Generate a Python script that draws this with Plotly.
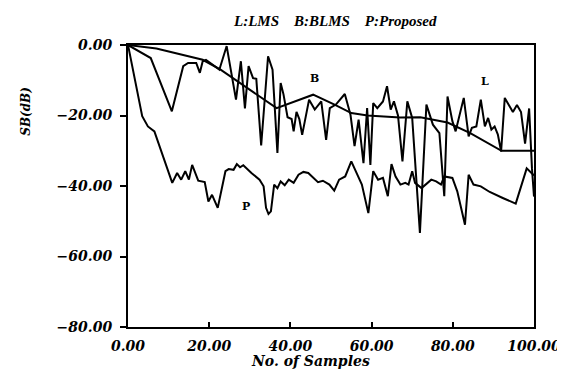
import plotly.graph_objects as go

# LMS (L)
l_x = [0, 3.6, 5.6, 10.8, 13.6, 14.8, 16.8, 17.7, 18.4, 19.2, 22.5, 24.3, 26.6, 27.8, 28.8, 29.7,
       30.8, 31.6, 32.8, 34.5, 35.6, 36.8, 37.6, 38.3, 39.3, 40.3, 40.8, 41.5, 42.2, 42.9, 44.6,
       46.0, 47.6, 48.8, 49.7, 51.2, 53.4, 54.8, 55.8, 56.8, 58.0, 58.9, 59.7, 60.4, 61.4, 62.8,
       63.8, 64.7, 65.5, 66.5, 67.6, 68.8, 70.0, 71.9, 73.5, 75.1, 76.7, 77.9, 78.7, 79.9, 80.7,
       82.7, 83.9, 84.7, 85.8, 86.9, 87.9, 88.7, 89.5, 90.3, 91.1, 91.9, 92.8, 93.8, 94.8, 95.8,
       96.8, 97.8, 98.8, 99.5, 100]
l_y = [0, -2.3, -3.7, -18.8, -6.0, -5.1, -5.1, -7.9, -4.6, -4.2, -7.0, -0.3, -15.5, -4.6, -18.0, -6.0,
       -9.4, -9.6, -28.5, -3.2, -7.0, -30.6, -10.8, -14.0, -20.5, -21.0, -24.5, -19.0, -21.0, -25.5, -15.5,
       -18.3, -16.0, -26.9, -17.9, -16.9, -13.9, -19.8, -28.7, -21.2, -33.5, -17.9, -34.0, -16.5, -17.9, -16.0,
       -11.7, -18.3, -16.0, -20.0, -33.0, -16.0, -20.7, -53.3, -16.9, -22.6, -25.0, -42.9, -14.6, -21.6, -24.5,
       -15.0, -25.9, -23.5, -23.1, -15.5, -23.1, -20.7, -24.0, -23.1, -25.4, -30.2, -15.0, -17.0, -19.0, -17.0,
       -19.0, -28.0, -18.0, -35.0, -43.0]

# BLMS (B)
b_x = [0, 7.0, 18.4, 22.8, 36.6, 45.6, 51.0, 55.0, 59.0, 67.0, 72.0, 78.7, 84.3, 92.0, 100]
b_y = [0, -1.0, -4.2, -7.0, -17.9, -14.1, -17.0, -19.3, -20.0, -20.6, -20.5, -22.0, -25.0, -30.0, -30.0]

# Proposed (P)
p_x = [0, 3.5, 4.9, 6.5, 10.9, 12.1, 13.1, 14.1, 15.0, 15.8, 17.3, 18.9, 19.8, 20.7, 22.1, 24.0,
       24.8, 26.0, 26.8, 27.6, 28.4, 29.3, 30.4, 32.4, 33.4, 34.0, 34.6, 35.2, 36.0, 36.8, 37.6,
       38.6, 39.6, 40.8, 42.0, 43.2, 44.4, 46.8, 48.0, 49.6, 50.8, 52.0, 53.5, 55.0, 55.9, 57.6,
       59.2, 60.4, 61.6, 62.8, 64.0, 64.9, 65.9, 67.1, 68.3, 69.1, 70.0, 70.7, 72.3, 74.7, 75.9,
       77.1, 77.9, 79.9, 81.1, 83.0, 83.9, 85.1, 86.9, 89.1, 92.3, 95.5, 98.2, 100]
p_y = [0, -20.2, -23.1, -24.5, -39.1, -36.3, -38.2, -35.8, -38.2, -34.0, -38.5, -38.9, -44.4, -42.5, -46.2, -35.8,
       -35.2, -35.4, -33.8, -34.7, -34.1, -35.2, -36.3, -38.2, -40.1, -46.2, -47.9, -47.2, -39.6, -40.6, -38.7,
       -39.8, -38.2, -39.1, -36.8, -36.0, -36.3, -38.9, -38.5, -39.6, -41.3, -38.2, -37.3, -33.0, -35.4, -39.6,
       -47.7, -35.8, -38.2, -37.7, -42.9, -33.8, -37.3, -39.6, -39.1, -39.6, -35.8, -39.1, -40.6, -38.2, -38.7,
       -39.6, -37.3, -37.7, -41.5, -51.0, -36.8, -39.6, -40.1, -41.7, -43.4, -45.0, -35.0, -37.0]

x_tickvals = [0, 20, 40, 60, 80, 100]
x_ticktext = ["0.00", "20.00", "40.00", "60.00", "80.00", "100.00"]
y_tickvals = [0, -20, -40, -60, -80]
y_ticktext = ["0.00", "\u221220.00", "\u221240.00", "\u221260.00", "\u221280.00"]

FONT = "DejaVu Serif"
TFONT = "Liberation Serif"
tick_font = dict(family=FONT, size=14, color="black", weight="bold", style="italic")

fig = go.Figure()
line = dict(color="black", width=2)
fig.add_trace(go.Scatter(x=l_x, y=l_y, mode="lines", line=line, name="L"))
fig.add_trace(go.Scatter(x=b_x, y=b_y, mode="lines", line=line, name="B"))
fig.add_trace(go.Scatter(x=p_x, y=p_y, mode="lines", line=line, name="P"))

fig.update_layout(
    width=565, height=370,
    margin=dict(l=120, r=28, t=37, b=51),
    paper_bgcolor="white", plot_bgcolor="white",
    showlegend=False,
    xaxis=dict(range=[0, 100], tickvals=x_tickvals, ticktext=x_ticktext,
               ticks="inside", ticklen=5, tickwidth=1.5, tickcolor="black",
               ticklabelstandoff=5,
               showline=True, linecolor="black", linewidth=2, mirror=True,
               showgrid=False, zeroline=False, tickfont=tick_font),
    yaxis=dict(range=[-80, 0], tickvals=y_tickvals, ticktext=y_ticktext,
               ticks="outside", ticklen=6, tickwidth=1.5, tickcolor="black",
               ticklabelstandoff=5,
               showline=True, linecolor="black", linewidth=2, mirror=True,
               showgrid=False, zeroline=False, tickfont=tick_font),
    annotations=[
        dict(text="L:LMS &nbsp;&nbsp; B:BLMS &nbsp;&nbsp; P:Proposed", xref="paper", yref="paper",
             x=0.51, y=1.085, xanchor="center", yanchor="middle", showarrow=False,
             font=dict(family=TFONT, size=15, color="black", weight="bold", style="italic")),
        dict(text="No. of Samples", xref="paper", yref="paper", x=0.45, y=-0.12,
             xanchor="center", yanchor="middle", showarrow=False,
             font=dict(family=FONT, size=14, color="black", weight="bold", style="italic")),
        dict(text="SB(dB)", xref="paper", yref="paper", x=-0.25, y=0.765, textangle=-90,
             xanchor="center", yanchor="middle", showarrow=False,
             font=dict(family=FONT, size=12, color="black", weight="bold", style="italic")),
        dict(text="L", x=88, y=-10.3, showarrow=False,
             font=dict(family=FONT, size=11, color="black", weight="bold")),
        dict(text="B", x=46, y=-9.6, showarrow=False,
             font=dict(family=FONT, size=11, color="black", weight="bold")),
        dict(text="P", x=29, y=-45.8, showarrow=False,
             font=dict(family=FONT, size=11, color="black", weight="bold")),
    ],
)

fig.write_html("out.html")
